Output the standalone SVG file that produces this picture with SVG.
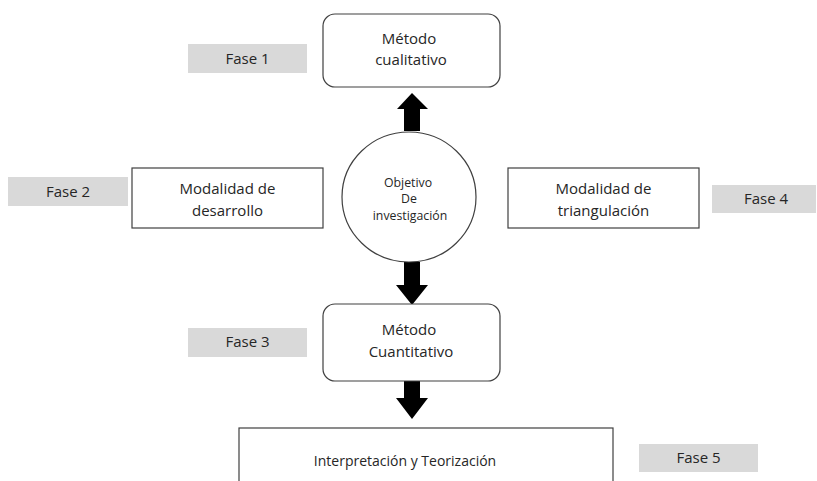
<svg xmlns="http://www.w3.org/2000/svg" width="817" height="481" viewBox="0 0 817 481">
<style>
  .bg { fill: #ffffff; }
  .box { fill: #ffffff; stroke: #404040; stroke-width: 1.2; }
  .fase { fill: #d9d9d9; }
  .t { font-family: "Open Sans", "Liberation Sans", Arial, sans-serif; font-size: 15px; fill: #262626; text-anchor: middle; }
  .ti { font-family: "Open Sans", "Liberation Sans", Arial, sans-serif; font-size: 14px; fill: #262626; text-anchor: middle; }
  .tc { font-family: "Open Sans", "Liberation Sans", Arial, sans-serif; font-size: 12.3px; fill: #262626; text-anchor: middle; }
  .arrow { fill: #000000; }
</style>
<rect class="bg" x="0" y="0" width="817" height="481"/>

<g id="connectors">
  <polygon class="arrow" points="404,131 404,109 397,109 412,93 428,109 420,109 420,131"/>
  <polygon class="arrow" points="404,262 404,285 396,285 412,305 428,285 420,285 420,262"/>
  <polygon class="arrow" points="404,381 404,398 396,398 412,419 428,398 420,398 420,381"/>
</g>

<g id="fase1">
  <rect class="fase" x="188" y="44" width="119" height="29"/>
  <text class="t" x="247.5" y="64">Fase 1</text>
</g>
<g id="metodo-cualitativo">
  <rect class="box" x="323" y="14" width="177" height="73" rx="12" ry="12"/>
  <text class="t" x="409" y="44">Método</text>
  <text class="t" x="411" y="65">cualitativo</text>
</g>

<g id="fase2">
  <rect class="fase" x="8" y="177" width="120" height="29"/>
  <text class="t" x="68" y="197">Fase 2</text>
</g>
<g id="modalidad-desarrollo">
  <rect class="box" x="132" y="168" width="191" height="60"/>
  <text class="t" x="227.5" y="194">Modalidad de</text>
  <text class="t" x="227.5" y="216">desarrollo</text>
</g>

<g id="objetivo">
  <ellipse class="box" cx="409" cy="197" rx="67" ry="65"/>
  <text class="tc" x="408" y="187">Objetivo</text>
  <text class="tc" x="409" y="203">De</text>
  <text class="tc" x="410" y="220">investigación</text>
</g>

<g id="modalidad-triangulacion">
  <rect class="box" x="508" y="168" width="191" height="60"/>
  <text class="t" x="603.5" y="194">Modalidad de</text>
  <text class="t" x="603.5" y="216">triangulación</text>
</g>
<g id="fase4">
  <rect class="fase" x="712" y="185" width="104" height="28"/>
  <text class="t" x="766" y="204">Fase 4</text>
</g>

<g id="fase3">
  <rect class="fase" x="188" y="328" width="119" height="29"/>
  <text class="t" x="247.5" y="347">Fase 3</text>
</g>
<g id="metodo-cuantitativo">
  <rect class="box" x="323" y="304" width="177" height="77" rx="12" ry="12"/>
  <text class="t" x="409" y="335">Método</text>
  <text class="t" x="411" y="357">Cuantitativo</text>
</g>

<g id="interpretacion">
  <rect class="box" x="239" y="428" width="374" height="70"/>
  <text class="ti" x="405" y="466">Interpretación y Teorización</text>
</g>
<g id="fase5">
  <rect class="fase" x="639" y="444" width="119" height="28"/>
  <text class="t" x="698.5" y="463">Fase 5</text>
</g>
</svg>
